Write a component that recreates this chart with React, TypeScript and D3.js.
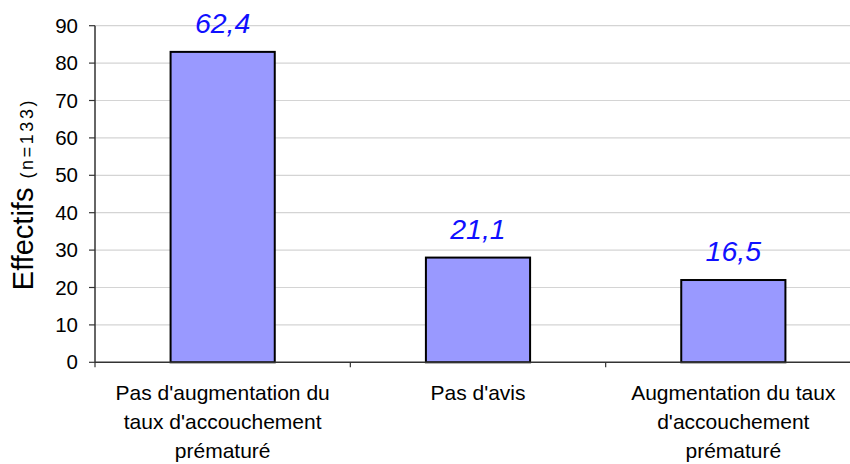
import React from "react";
import * as d3 from "d3";

const categories: string[][] = [
  ["Pas d'augmentation du", "taux d'accouchement", "prématuré"],
  ["Pas d'avis"],
  ["Augmentation du taux", "d'accouchement", "prématuré"],
];
const values: number[] = [83, 28, 22];
const percentLabels: string[] = ["62,4", "21,1", "16,5"];
const yTicks: number[] = [0, 10, 20, 30, 40, 50, 60, 70, 80, 90];

const W = 850;
const H = 464;
const left = 95;
const top = 25.7;
const bottom = 362.3;
const right = 861;

export default function App() {
  const keys = categories.map((_, i) => String(i));
  const x = d3.scaleBand<string>().domain(keys).range([left, right]).padding(0);
  const y = d3.scaleLinear().domain([0, 90]).range([bottom, top]);
  const bw = x.bandwidth();
  const barW = bw * 0.408;
  const font = "Arial, 'Liberation Sans', sans-serif";

  return (
    <svg
      width={W}
      height={H}
      style={{ position: "fixed", left: 0, top: 0, background: "#fff" }}
      fontFamily={font}
    >
      {/* gridlines */}
      {yTicks.slice(1).map((t) => (
        <line key={"g" + t} x1={left} x2={W} y1={y(t)} y2={y(t)} stroke="#d4d4d4" strokeWidth={1.2} />
      ))}
      {/* bars */}
      {values.map((v, i) => {
        const bx = (x(keys[i]) as number) + (bw - barW) / 2;
        return (
          <rect
            key={"b" + i}
            x={bx}
            y={y(v)}
            width={barW}
            height={bottom - y(v)}
            fill="#9999FF"
            stroke="#000"
            strokeWidth={2}
          />
        );
      })}
      {/* value labels */}
      {values.map((v, i) => (
        <text
          key={"v" + i}
          x={(x(keys[i]) as number) + bw / 2}
          y={y(v) - 19}
          textAnchor="middle"
          fontSize={28.5}
          fontStyle="italic"
          fill="#1010FF"
        >
          {percentLabels[i]}
        </text>
      ))}
      {/* y axis */}
      <line x1={left} x2={left} y1={top} y2={bottom} stroke="#333" strokeWidth={1.5} />
      {yTicks.map((t) => (
        <g key={"t" + t}>
          <line x1={left - 6} x2={left} y1={y(t)} y2={y(t)} stroke="#333" strokeWidth={1.2} />
          <text x={78} y={y(t) + 7} textAnchor="end" fontSize={20.5} fill="#000">
            {t}
          </text>
        </g>
      ))}
      {/* x axis */}
      <line x1={left} x2={W} y1={bottom} y2={bottom} stroke="#333" strokeWidth={1.5} />
      {keys.map((k, i) => (
        <line
          key={"xt" + i}
          x1={(x(k) as number)}
          x2={(x(k) as number)}
          y1={bottom}
          y2={bottom + 5}
          stroke="#333"
          strokeWidth={1.2}
        />
      ))}
      <line x1={right} x2={right} y1={bottom} y2={bottom + 5} stroke="#333" />
      {categories.map((lines, i) => (
        <text
          key={"c" + i}
          x={(x(keys[i]) as number) + bw / 2}
          y={400}
          textAnchor="middle"
          fontSize={21}
          fill="#000"
        >
          {lines.map((l, j) => (
            <tspan key={j} x={(x(keys[i]) as number) + bw / 2} dy={j === 0 ? 0 : 29}>
              {l}
            </tspan>
          ))}
        </text>
      ))}
      {/* y title */}
      <text
        transform={`translate(33, ${(top + bottom) / 2}) rotate(-90)`}
        textAnchor="middle"
        fill="#000"
      >
        <tspan fontSize={29}>Effectifs</tspan>
        <tspan fontSize={18} dx={9} letterSpacing={2.6}>(n=133)</tspan>
      </text>
    </svg>
  );
}
